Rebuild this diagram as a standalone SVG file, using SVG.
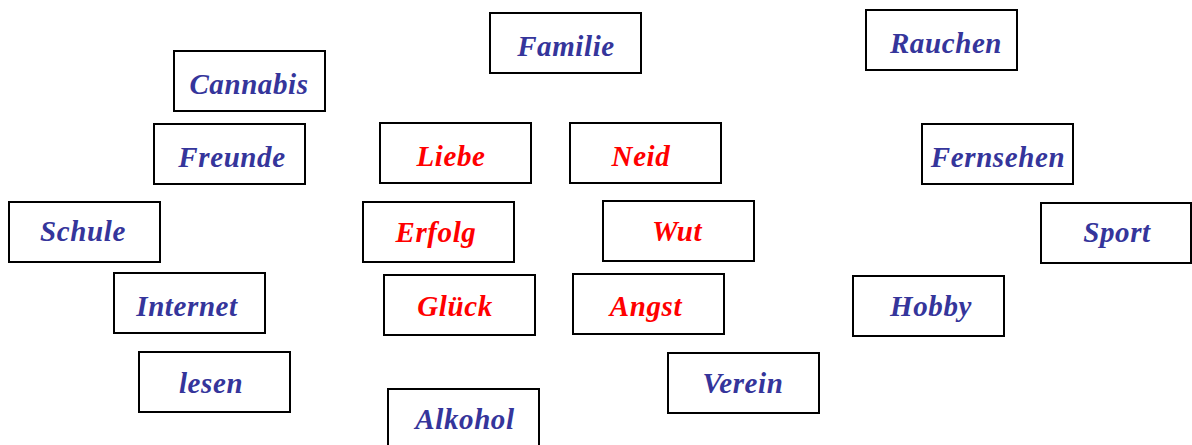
<svg xmlns="http://www.w3.org/2000/svg" width="1192" height="445" viewBox="0 0 1192 445">
  <style>
    .box { fill: #ffffff; stroke: #000000; stroke-width: 2; }
    .lbl { font-family: "Liberation Serif", "DejaVu Serif", serif; font-style: italic; font-weight: bold; font-size: 29px; text-anchor: middle; letter-spacing: 0.6px; }
    .blue { fill: #35359b; }
    .red { fill: #ff0000; }
  </style>
  <rect width="1192" height="445" fill="#ffffff"/>
  <g id="connectors"/>
  <g id="familie"><rect class="box" x="490" y="13" width="151" height="60"/><text class="lbl blue" x="566" y="56">Familie</text></g>
  <g id="rauchen"><rect class="box" x="866" y="10" width="151" height="60"/><text class="lbl blue" x="946" y="53">Rauchen</text></g>
  <g id="cannabis"><rect class="box" x="174" y="51" width="151" height="60"/><text class="lbl blue" x="249" y="94">Cannabis</text></g>
  <g id="freunde"><rect class="box" x="154" y="124" width="151" height="60"/><text class="lbl blue" x="232" y="167">Freunde</text></g>
  <g id="liebe"><rect class="box" x="380" y="123" width="151" height="60"/><text class="lbl red" x="451" y="166">Liebe</text></g>
  <g id="neid"><rect class="box" x="570" y="123" width="151" height="60"/><text class="lbl red" x="641" y="166">Neid</text></g>
  <g id="fernsehen"><rect class="box" x="922" y="124" width="151" height="60"/><text class="lbl blue" x="998" y="167">Fernsehen</text></g>
  <g id="schule"><rect class="box" x="9" y="202" width="151" height="60"/><text class="lbl blue" x="83" y="241">Schule</text></g>
  <g id="erfolg"><rect class="box" x="363" y="202" width="151" height="60"/><text class="lbl red" x="436" y="242">Erfolg</text></g>
  <g id="wut"><rect class="box" x="603" y="201" width="151" height="60"/><text class="lbl red" x="677" y="241">Wut</text></g>
  <g id="sport"><rect class="box" x="1041" y="203" width="150" height="60"/><text class="lbl blue" x="1117" y="242">Sport</text></g>
  <g id="internet"><rect class="box" x="114" y="273" width="151" height="60"/><text class="lbl blue" x="187" y="316">Internet</text></g>
  <g id="glueck"><rect class="box" x="384" y="275" width="151" height="60"/><text class="lbl red" x="455" y="316">Glück</text></g>
  <g id="angst"><rect class="box" x="573" y="274" width="151" height="60"/><text class="lbl red" x="646" y="316">Angst</text></g>
  <g id="hobby"><rect class="box" x="853" y="276" width="151" height="60"/><text class="lbl blue" x="931" y="316">Hobby</text></g>
  <g id="lesen"><rect class="box" x="139" y="352" width="151" height="60"/><text class="lbl blue" x="211" y="393">lesen</text></g>
  <g id="verein"><rect class="box" x="668" y="353" width="151" height="60"/><text class="lbl blue" x="743" y="393">Verein</text></g>
  <g id="alkohol"><rect class="box" x="388" y="389" width="151" height="60"/><text class="lbl blue" x="465" y="429">Alkohol</text></g>
</svg>
